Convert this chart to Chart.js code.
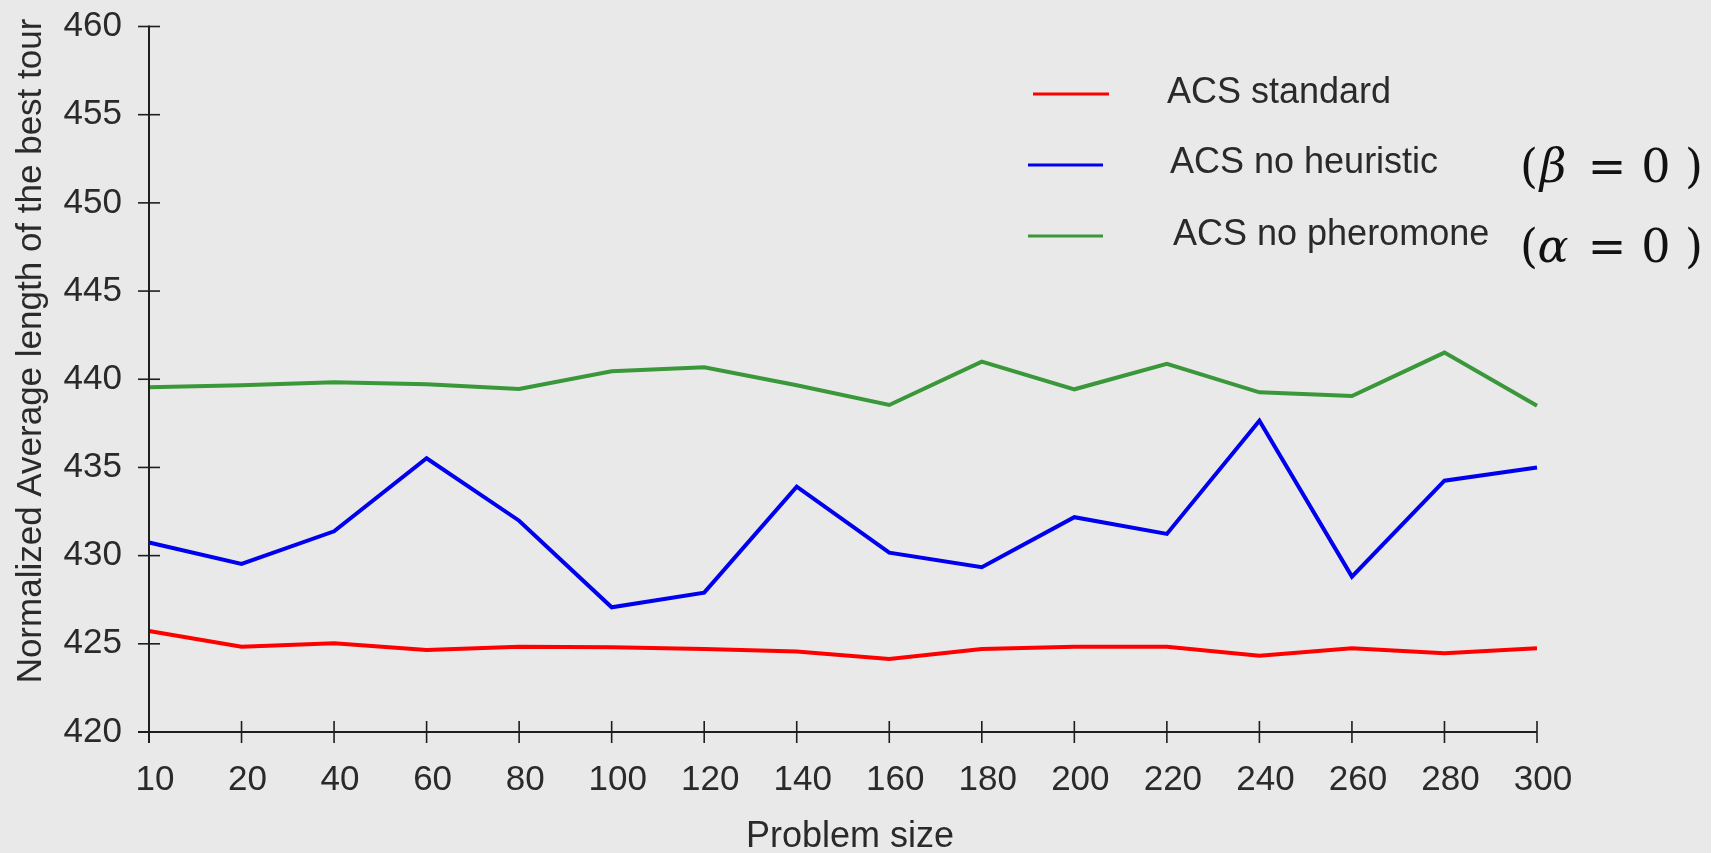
<!DOCTYPE html>
<html>
<head>
<meta charset="utf-8">
<script src="https://cdn.jsdelivr.net/npm/chart.js@4.4.1/dist/chart.umd.min.js"></script>
<style>
  html, body { margin: 0; padding: 0; background: #ffffff; }
  #wrap { width: 1729px; height: 853px; }
</style>
</head>
<body>
<div id="wrap"><canvas id="chart" width="1729" height="853"></canvas></div>
<script>
// Problem sizes on the x axis
const problemSizes = [10, 20, 40, 60, 80, 100, 120, 140, 160, 180, 200, 220, 240, 260, 280, 300];

// Normalized average length of the best tour for each ACS variant
const acsStandard    = [425.73, 424.84, 425.03, 424.65, 424.84, 424.80, 424.71, 424.56, 424.14, 424.71, 424.84, 424.84, 424.33, 424.75, 424.47, 424.75];
const acsNoHeuristic = [430.74, 429.53, 431.38, 435.52, 431.98, 427.07, 427.90, 433.91, 430.17, 429.34, 432.18, 431.23, 437.65, 428.81, 434.25, 435.00];
const acsNoPheromone = [439.55, 439.66, 439.83, 439.72, 439.45, 440.45, 440.68, 439.66, 438.54, 441.00, 439.43, 440.87, 439.26, 439.05, 441.51, 438.50];

// Series names and the parameter set to zero for each variant
const seriesNames = ['ACS standard', 'ACS no heuristic', 'ACS no pheromone'];
const seriesNotes = [null, 'β', 'α'];

// Axis titles
const xTitle = 'Problem size';
const yTitle = 'Normalized Average length of the best tour';

// Y axis range
const yMin = 420, yMax = 460, yStep = 5;

const INK = '#2a2a2a';
const SANS = '"Liberation Sans", Arial, sans-serif';
const SERIF = '"DejaVu Serif", "Liberation Serif", serif';
const BG = '#e9e9e9';

const colors = ['#ff0000', '#0000ee', '#3a973a'];

// Grey panel behind everything
const backgroundPlugin = {
  id: 'panelBackground',
  beforeDraw(chart) {
    const ctx = chart.ctx;
    ctx.save();
    ctx.fillStyle = BG;
    ctx.fillRect(0, 0, 1711, chart.height);
    ctx.restore();
  }
};

// Axis lines with tick marks crossing the axis, plus axis titles
const crossAxesPlugin = {
  id: 'crossAxes',
  afterDraw(chart) {
    const { ctx, chartArea, scales } = chart;
    const xs = scales.x, ys = scales.y;
    const half = 11;
    ctx.save();
    ctx.strokeStyle = '#1e1e1e';
    ctx.lineWidth = 2;
    ctx.lineCap = 'butt';
    // y axis
    const topY = ys.getPixelForValue(yMax);
    ctx.beginPath();
    ctx.moveTo(chartArea.left, topY - 1);
    ctx.lineTo(chartArea.left, chartArea.bottom + half);
    ctx.stroke();
    // x axis
    ctx.beginPath();
    ctx.moveTo(chartArea.left - half, chartArea.bottom);
    ctx.lineTo(chartArea.right, chartArea.bottom);
    ctx.stroke();
    ctx.lineWidth = 1.6;
    ys.ticks.forEach(t => {
      const py = ys.getPixelForValue(t.value);
      ctx.beginPath();
      ctx.moveTo(chartArea.left - half, py);
      ctx.lineTo(chartArea.left + half, py);
      ctx.stroke();
    });
    xs.ticks.forEach((t, i) => {
      const px = xs.getPixelForTick(i);
      ctx.beginPath();
      ctx.moveTo(px, chartArea.bottom - half);
      ctx.lineTo(px, chartArea.bottom + half);
      ctx.stroke();
    });

    // axis titles
    ctx.fillStyle = INK;
    ctx.textAlign = 'center';
    ctx.textBaseline = 'middle';
    ctx.font = '36px ' + SANS;
    ctx.fillText(xTitle, 850, 837);
    ctx.translate(31, 351);
    ctx.rotate(-Math.PI / 2);
    ctx.font = '35px ' + SANS;
    ctx.fillText(yTitle, 0, 0);
    ctx.restore();
  }
};

// Legend inside the plot, with the parameter notes to the right
const legendPlugin = {
  id: 'insideLegend',
  afterDraw(chart) {
    const ctx = chart.ctx;
    const rows = [
      { x0: 1033, x1: 1109, ly: 94,  tx: 1167, ty: 103, nb: 0 },
      { x0: 1028, x1: 1103, ly: 165, tx: 1170, ty: 173, nb: 182 },
      { x0: 1028, x1: 1103, ly: 236, tx: 1173, ty: 245, nb: 262 }
    ];
    ctx.save();
    chart.data.datasets.forEach((ds, i) => {
      const r = rows[i];
      ctx.strokeStyle = ds.borderColor;
      ctx.lineWidth = 3;
      ctx.beginPath();
      ctx.moveTo(r.x0, r.ly);
      ctx.lineTo(r.x1, r.ly);
      ctx.stroke();
      ctx.fillStyle = INK;
      ctx.font = '36px ' + SANS;
      ctx.textAlign = 'left';
      ctx.textBaseline = 'alphabetic';
      ctx.fillText(ds.label, r.tx, r.ty);

      const note = seriesNotes[i];
      if (note) {
        ctx.fillStyle = '#111111';
        ctx.textAlign = 'center';
        const parts = [
          { t: '(', cx: 1529, f: '46px ' + SERIF },
          { t: note, cx: 1553, f: 'italic 46px ' + SERIF },
          { t: '=', cx: 1607, f: '46px ' + SERIF },
          { t: '0', cx: 1656, f: '46px ' + SERIF },
          { t: ')', cx: 1694, f: '46px ' + SERIF }
        ];
        parts.forEach(p => {
          ctx.font = p.f;
          ctx.fillText(p.t, p.cx, r.nb);
        });
      }
    });
    ctx.restore();
  }
};

const ctx = document.getElementById('chart').getContext('2d');
new Chart(ctx, {
  type: 'line',
  data: {
    labels: problemSizes,
    datasets: [
      { label: seriesNames[0], data: acsStandard,    borderColor: colors[0] },
      { label: seriesNames[1], data: acsNoHeuristic, borderColor: colors[1] },
      { label: seriesNames[2], data: acsNoPheromone, borderColor: colors[2] }
    ].map(d => Object.assign(d, {
      borderWidth: 4,
      pointRadius: 0,
      pointHoverRadius: 0,
      tension: 0,
      fill: false
    }))
  },
  options: {
    responsive: false,
    devicePixelRatio: 1,
    animation: false,
    events: [],
    layout: { padding: { top: 26.5, right: 192, left: 0, bottom: 0 } },
    plugins: {
      legend: { display: false },
      tooltip: { enabled: false },
      title: { display: false }
    },
    scales: {
      x: {
        type: 'category',
        offset: false,
        grid: { display: false },
        border: { display: false },
        ticks: {
          color: INK,
          font: { family: SANS, size: 35 },
          padding: 19,
          labelOffset: 6,
          maxRotation: 0,
          autoSkip: false
        },
        afterFit(scale) {
          scale.height = 121;
          scale.paddingLeft = 0;
          scale.paddingRight = 0;
        }
      },
      y: {
        min: yMin,
        max: yMax,
        grid: { display: false },
        border: { display: false },
        ticks: {
          stepSize: yStep,
          color: INK,
          font: { family: SANS, size: 35 },
          padding: 19
        },
        afterFit(scale) {
          scale.width = 149;
          scale.paddingTop = 0;
          scale.paddingBottom = 0;
        }
      }
    }
  },
  plugins: [backgroundPlugin, crossAxesPlugin, legendPlugin]
});
</script>
</body>
</html>
